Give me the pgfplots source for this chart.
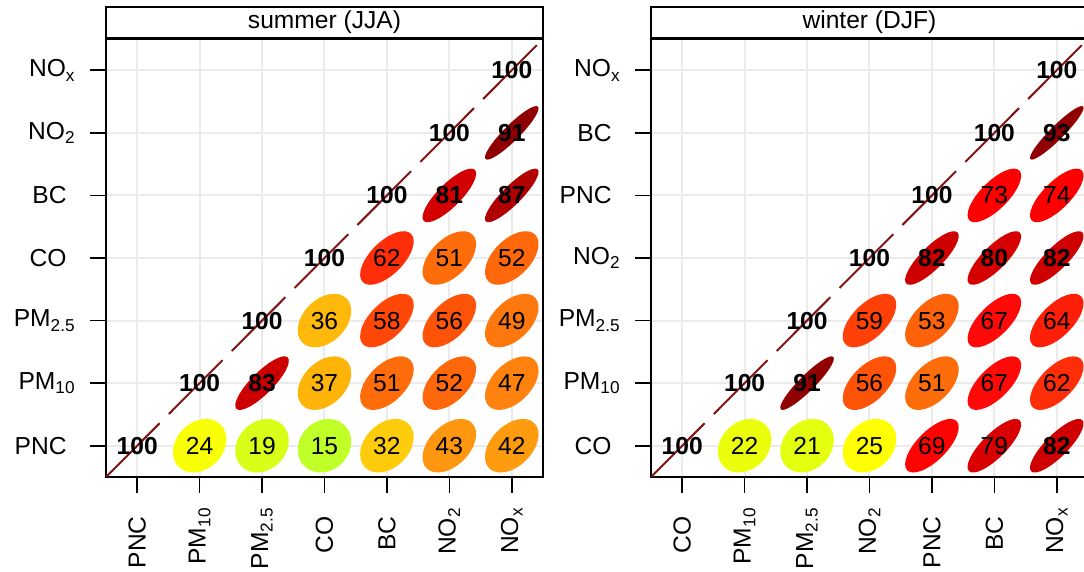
\documentclass[border=0pt]{standalone}
\usepackage{pgfplots}
\pgfplotsset{compat=1.18}
\usepackage{pgfplotstable}
\usepackage{fontspec}
\setmainfont{Liberation Sans}

\definecolor{diagred}{RGB}{128,20,20}
\definecolor{gridgray}{RGB}{235,235,235}
\newcommand\sub[1]{\raisebox{-2.3pt}{\fontsize{8.6}{9}\selectfont #1}}
\newcommand\pl[1]{#1\hspace*{4pt}\hbox{}}
\newcommand\txtfont{\fontsize{12.3}{14}\selectfont}

\pgfdeclareplotmark{corrEll}{%
  \pgfpathellipse{\pgfpointorigin}{\pgfpoint{\ea}{\ea}}{\pgfpoint{-\eb}{\eb}}%
  \pgfusepathqfill}

% summer, regular-weight values (r < 80)
\pgfplotstableread{
x y r
2 1 24
3 1 19
4 1 15
5 1 32
6 1 43
7 1 42
4 2 37
5 2 51
6 2 52
7 2 47
4 3 36
5 3 58
6 3 56
7 3 49
5 4 62
6 4 51
7 4 52
}\summerA
% summer, bold values (r >= 80)
\pgfplotstableread{
x y r
3 2 83
6 5 81
7 5 87
7 6 91
}\summerB

\pgfplotstableread{
x y r
2 1 22
3 1 21
4 1 25
5 1 69
6 1 79
4 2 56
5 2 51
6 2 67
7 2 62
4 3 59
5 3 53
6 3 67
7 3 64
6 5 73
7 5 74
}\winterA
\pgfplotstableread{
x y r
7 1 82
3 2 91
5 4 82
6 4 80
7 4 82
7 6 93
}\winterB

\pgfplotsset{
  corrax/.style={
    scale only axis, width=218.5pt, height=219pt,
    xmin=0.5, xmax=7.5, ymin=0.5, ymax=7.5,
    xtick={1,...,7}, ytick={1,...,7},
    tick pos=left, tick align=outside,
    major tick length=8pt,
    major tick style={line width=0.8pt, black},
    axis line style={line width=0.9pt, black},
    grid=major, major grid style={line width=1pt, gridgray},
    ticklabel style={font=\txtfont, inner sep=0pt},
    xticklabel style={rotate=90, anchor=east},
    yticklabel style={anchor=east},
    xticklabel shift=7.5pt, yticklabel shift=7.5pt,
    colormap={corr}{rgb255(15pt)=(192,255,40) rgb255(20pt)=(222,255,20)
      rgb255(25pt)=(255,255,0) rgb255(32pt)=(255,204,12) rgb255(37pt)=(255,180,10)
      rgb255(43pt)=(255,150,15) rgb255(48pt)=(255,125,15) rgb255(52pt)=(255,104,10)
      rgb255(57pt)=(255,78,8) rgb255(62pt)=(255,45,8) rgb255(67pt)=(255,10,8)
      rgb255(70pt)=(255,0,0) rgb255(74pt)=(255,0,0) rgb255(79pt)=(216,0,0)
      rgb255(83pt)=(204,0,0) rgb255(87pt)=(176,0,0) rgb255(91pt)=(145,0,0)
      rgb255(100pt)=(139,0,0)},
    point meta min=15, point meta max=100,
    every axis title/.style={at={(0.5,1)}, anchor=south, draw=black, line width=0.9pt,
      minimum width=218.5pt, minimum height=15.5pt, inner sep=0pt, font=\txtfont},
  },
  ellplot/.style={scatter, only marks, mark=corrEll, point meta=explicit,
    scatter/@pre marker code/.append code={%
      \pgfmathsetmacro\rr{0.15+0.00085*\pgfplotspointmetatransformed}%
      \pgfmathsetlengthmacro\ea{13.4*sqrt((1+\rr)/2)}%
      \pgfmathsetlengthmacro\eb{13.4*sqrt(max(1-\rr,0)/2)}}},
  txtplot/.style={only marks, mark=none, point meta=explicit symbolic,
    nodes near coords,
    nodes near coords style={anchor=center, inner sep=0pt, font=\txtfont, black}},
  boldplot/.style={txtplot, nodes near coords style={font=\txtfont\bfseries}},
  diagline/.style={diagred, line width=1pt, dash pattern=on 38pt off 6.5pt},
}

\begin{document}
\begin{tikzpicture}
\begin{axis}[corrax, at={(53pt,47.5pt)}, anchor=south west, title={summer (JJA)},
  xticklabels={\pl{PNC}, PM\sub{10}, PM\sub{2.5}, \pl{CO}, \pl{BC}, NO\sub{2}, NO\sub{x}},
  yticklabels={\pl{PNC}, PM\sub{10}, PM\sub{2.5}, \pl{CO}, \pl{BC}, NO\sub{2}, NO\sub{x}}]
\addplot[ellplot] table[x=x,y=y,meta=r]{\summerA};
\addplot[ellplot] table[x=x,y=y,meta=r]{\summerB};
\addplot[txtplot] table[x=x,y=y,meta=r]{\summerA};
\addplot[boldplot] table[x=x,y=y,meta=r]{\summerB};
\addplot[boldplot] coordinates {(1,1)[100] (2,2)[100] (3,3)[100] (4,4)[100] (5,5)[100] (6,6)[100] (7,7)[100]};
\addplot[diagline] coordinates {(0.5,0.5)(7.5,7.5)};
\end{axis}
\begin{axis}[corrax, at={(325.5pt,47.5pt)}, anchor=south west, title={winter (DJF)},
  xticklabels={\pl{CO}, PM\sub{10}, PM\sub{2.5}, NO\sub{2}, \pl{PNC}, \pl{BC}, NO\sub{x}},
  yticklabels={\pl{CO}, PM\sub{10}, PM\sub{2.5}, NO\sub{2}, \pl{PNC}, \pl{BC}, NO\sub{x}}]
\addplot[ellplot] table[x=x,y=y,meta=r]{\winterA};
\addplot[ellplot] table[x=x,y=y,meta=r]{\winterB};
\addplot[txtplot] table[x=x,y=y,meta=r]{\winterA};
\addplot[boldplot] table[x=x,y=y,meta=r]{\winterB};
\addplot[boldplot] coordinates {(1,1)[100] (2,2)[100] (3,3)[100] (4,4)[100] (5,5)[100] (6,6)[100] (7,7)[100]};
\addplot[diagline] coordinates {(0.5,0.5)(7.5,7.5)};
\end{axis}
\pgfresetboundingbox
\useasboundingbox (0,0) rectangle (542pt,286pt);
\end{tikzpicture}
\end{document}
